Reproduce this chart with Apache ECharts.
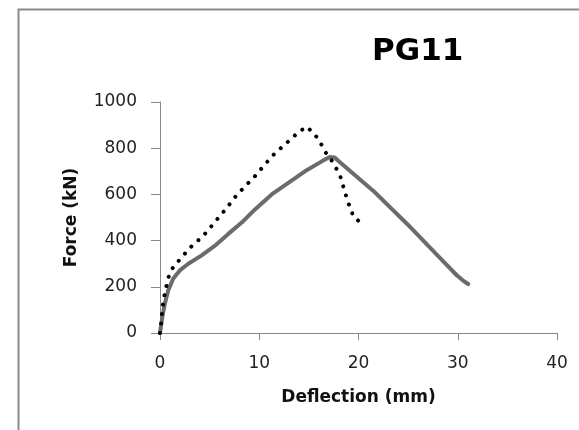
<!DOCTYPE html>
<html>
<head>
<meta charset="utf-8">
<title>PG11</title>
<script src="https://cdn.jsdelivr.net/npm/echarts@6.0.0/dist/echarts.min.js"></script>
<style>
	html, body { margin: 0; padding: 0; background: #ffffff; }
	#pg11chart { width: 579px; height: 430px; }
</style>
</head>
<body>
<div id="pg11chart"></div>
<script>

// solid grey curve (mm / kN)
var solidDefl  = [0, 0.24, 0.5, 0.84, 1.34, 2.0, 2.85, 4.2, 5.54, 6.88, 8.23, 9.57, 11.25, 12.93, 14.6, 16.3, 17.1, 17.6, 18.1, 21.5, 24.9, 28.2, 29.9, 30.5, 31.05];
var solidForce = [0, 71, 129, 186, 236, 271, 300, 336, 378, 429, 478, 535, 600, 650, 700, 743, 762, 760, 740, 615, 472, 325, 250, 228, 212];

// dotted black curve (mm / kN)
var dottedDefl  = [0, 0.1, 0.24, 0.5, 0.91, 1.31, 1.85, 3.02, 4.37, 5.48, 6.62, 7.72, 9.57, 11.32, 12.66, 14.0, 14.78, 15.38, 15.95, 16.79, 17.37, 18.14, 18.64, 18.9, 19.2, 19.5, 20.22];
var dottedForce = [0, 36, 107, 178, 250, 283, 311, 369, 421, 478, 536, 597, 679, 767, 819, 871, 893, 869, 840, 774, 743, 682, 608, 572, 537, 503, 478];

// axis ticks
var xTicks = [0, 10, 20, 30, 40];
var yTicks = [0, 200, 400, 600, 800, 1000];

function pairs(xs, ys) { // [[x, y], ...] for the value axes
	var out = [];
	for (var i = 0; i < xs.length; i++) {
		out.push([xs[i], ys[i]]);
	}
	return out;
}

function buildChart() {

	var chart = echarts.init(document.getElementById('pg11chart'), null, { renderer: 'canvas' });
	var axisGrey = '#878787';
	var font = 'DejaVu Sans';

	var option = {
		animation: false,
		backgroundColor: '#ffffff',
		title: {
			text: 'PG11',
			left: 372,
			top: 36,
			padding: 0,
			textStyle: {
				fontFamily: font,
				fontWeight: 'bold',
				fontSize: 31,
				color: '#000000'
			}
		},
		graphic: [{ // outer frame, runs off the right and bottom edges
			type: 'rect',
			silent: true,
			shape: { x: 18.5, y: 9.5, width: 700, height: 500 },
			style: { fill: 'none', stroke: '#8a8a8a', lineWidth: 2 }
		}],
		grid: {
			left: 160,
			right: 22,
			top: 102,
			bottom: 97
		},
		xAxis: {
			type: 'value',
			min: xTicks[0],
			max: xTicks[xTicks.length - 1],
			interval: xTicks[1] - xTicks[0],
			name: 'Deflection (mm)',
			nameLocation: 'middle',
			nameGap: 56,
			nameTextStyle: { fontFamily: font, fontWeight: 'bold', fontSize: 17, color: '#111111' },
			axisLine: { show: true, lineStyle: { color: axisGrey, width: 1 } },
			axisTick: { show: true, length: 7, lineStyle: { color: axisGrey } },
			axisLabel: { margin: 22, fontFamily: font, fontSize: 17, color: '#222222' },
			splitLine: { show: false }
		},
		yAxis: {
			type: 'value',
			min: yTicks[0],
			max: yTicks[yTicks.length - 1],
			interval: yTicks[1] - yTicks[0],
			name: 'Force (kN)',
			nameLocation: 'middle',
			nameGap: 80,
			nameTextStyle: { fontFamily: font, fontWeight: 'bold', fontSize: 17, color: '#111111' },
			axisLine: { show: true, lineStyle: { color: axisGrey, width: 1 } },
			axisTick: { show: true, length: 9, lineStyle: { color: axisGrey } },
			axisLabel: {
				margin: 23,
				fontFamily: font,
				fontSize: 17,
				color: '#222222',
				formatter: function(v) { return String(v); } // no thousands separator
			},
			splitLine: { show: false }
		},
		series: [{
			name: 'dotted',
			type: 'line',
			showSymbol: false,
			data: pairs(dottedDefl, dottedForce),
			lineStyle: {
				color: '#000000',
				width: 4,
				type: [0.01, 9.5],
				cap: 'round'
			},
			z: 3
		}, {
			name: 'solid',
			type: 'line',
			showSymbol: false,
			data: pairs(solidDefl, solidForce),
			lineStyle: {
				color: '#6b6b6b',
				width: 4,
				join: 'round',
				cap: 'round'
			},
			z: 2
		}]
	};
	chart.setOption(option);

}

buildChart();

</script>
</body>
</html>
